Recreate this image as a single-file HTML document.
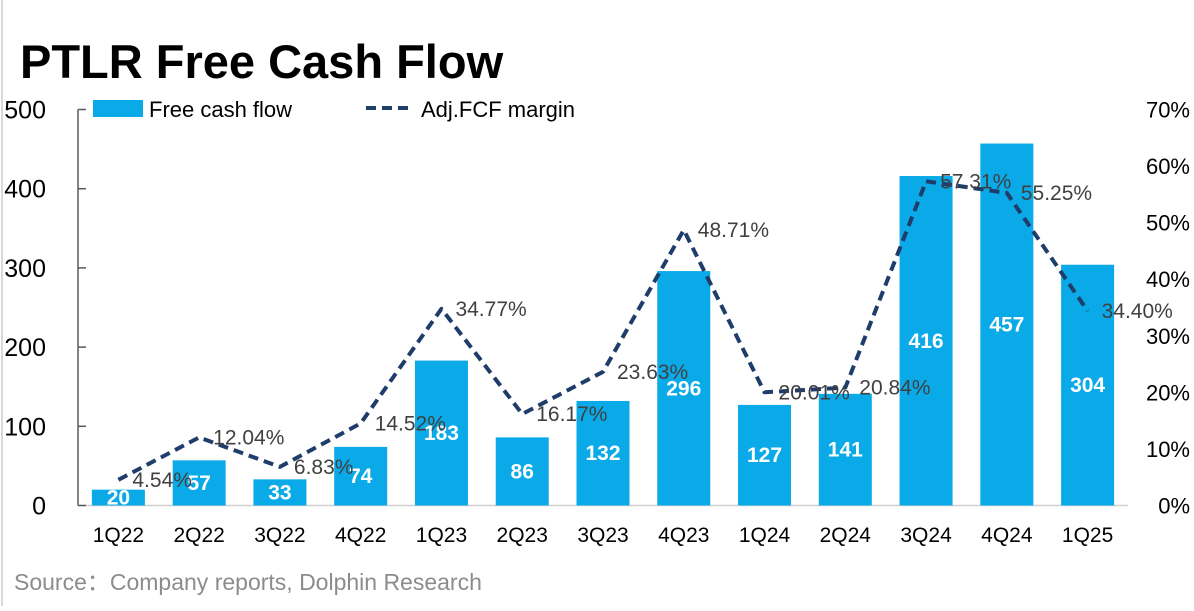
<!DOCTYPE html>
<html><head><meta charset="utf-8"><style>
body{margin:0;background:#fff;width:1194px;height:606px;overflow:hidden;font-family:"Liberation Sans","Noto Sans CJK SC",sans-serif;}
</style></head><body>
<svg id="chart" width="1194" height="606" xmlns="http://www.w3.org/2000/svg">
<rect x="1" y="0" width="2" height="606" fill="#d9d9d9"/>
<text x="20" y="78" font-size="47" font-weight="bold" fill="#000">PTLR Free Cash Flow</text>
<g id="axes"></g><g id="bars"></g><g id="line"></g><g id="labels"></g>
<g>
<rect x="93" y="100" width="50" height="17" fill="#0aaae8"/>
<text x="149" y="117" font-size="22" fill="#000">Free cash flow</text>
<line x1="366" y1="108" x2="412" y2="108" stroke="#1f3d6b" stroke-width="4" stroke-dasharray="10 6"/>
<text x="421" y="117" font-size="22" fill="#000">Adj.FCF margin</text>
</g>
<text x="14" y="590" font-size="23" fill="#8c8c8c">Source：Company reports, Dolphin Research</text>
</svg>
<script>
const categories=["1Q22","2Q22","3Q22","4Q22","1Q23","2Q23","3Q23","4Q23","1Q24","2Q24","3Q24","4Q24","1Q25"];
const fcfValues=[20,57,33,74,183,86,132,296,127,141,416,457,304];
const marginValues=[4.54,12.04,6.83,14.52,34.77,16.17,23.63,48.71,20.01,20.84,57.31,55.25,34.40];
const leftTicks=[0,100,200,300,400,500];
const rightTicks=[0,10,20,30,40,50,60,70];
const NS="http://www.w3.org/2000/svg";
const x0=78,x1=1128,y0=505.5,yTop=109.5;
const yL=v=>y0-(v/500)*(y0-yTop);
const yR=v=>y0-(v/70)*(y0-yTop);
const step=(x1-x0)/categories.length;
const xC=i=>x0+step*(i+0.5);
function mk(t,a,p){const e=document.createElementNS(NS,t);for(const k in a)e.setAttribute(k,a[k]);document.getElementById(p).appendChild(e);return e;}
let e=mk("line",{x1:x0,y1:yTop,x2:x0,y2:y0,stroke:"#595959","stroke-width":1.5},"axes");


e=mk("line",{x1:x0,y1:y0,x2:x1,y2:y0,stroke:"#d0d0d0","stroke-width":1.5},"axes");


leftTicks.forEach(v=>{
 let t=mk("line",{x1:x0,y1:yL(v),x2:x0+8,y2:yL(v),stroke:"#595959","stroke-width":1.5},"axes");
 
 
 let l=mk("text",{x:46,y:yL(v)+9,"font-size":25,"text-anchor":"end",fill:"#000"},"axes");l.textContent=v;
 
 
});
rightTicks.forEach(v=>{
 let l=mk("text",{x:1190,y:yR(v)+8,"font-size":22,"text-anchor":"end",fill:"#000"},"axes");l.textContent=v+"%";
 
 
});
const bw=53;
categories.forEach((c,i)=>{
 let b=mk("rect",{x:xC(i)-bw/2,y:yL(fcfValues[i]),width:bw,height:y0-yL(fcfValues[i]),fill:"#0aaae8"},"bars");
 
 
 let v=mk("text",{x:xC(i),y:(yL(fcfValues[i])+y0)/2+7,"font-size":21,"font-weight":"bold","text-anchor":"middle",fill:"#fff"},"labels");v.textContent=fcfValues[i];
 
 
 let x=mk("text",{x:xC(i),y:542,"font-size":21,"text-anchor":"middle",fill:"#000"},"axes");x.textContent=c;
 
 
});
const pts=marginValues.map((m,i)=>xC(i)+","+yR(m)).join(" ");
let pl=mk("polyline",{points:pts,fill:"none",stroke:"#1f3d6b","stroke-width":4,"stroke-dasharray":"10 6","stroke-linejoin":"round"},"line");


marginValues.forEach((m,i)=>{
 let t=mk("text",{x:xC(i)+14,y:yR(m)+7,"font-size":21,fill:"#404040"},"labels");t.textContent=m.toFixed(2)+"%";
 
 
});
</script>
</body></html>
